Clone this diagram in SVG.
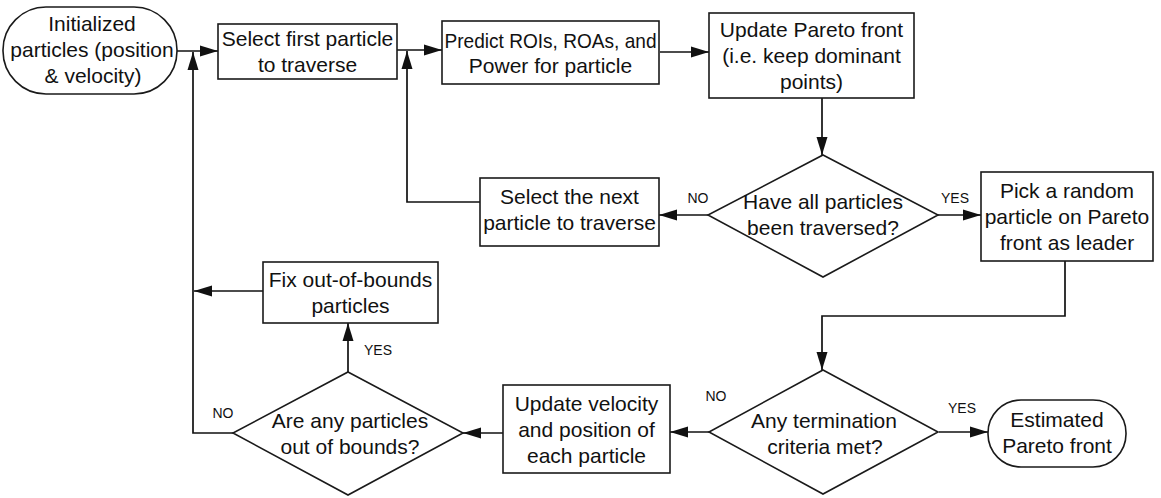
<svg xmlns="http://www.w3.org/2000/svg" width="1161" height="498" viewBox="0 0 1161 498">
<style>
.box{fill:#fff;stroke:#1a1a1a;stroke-width:1.6}
.t{font-family:"Liberation Sans",Arial,sans-serif;font-size:21px;fill:#111;text-anchor:middle}
.l{font-family:"Liberation Sans",Arial,sans-serif;font-size:14px;fill:#111;text-anchor:middle}
.c{fill:none;stroke:#111;stroke-width:1.7}
</style>
<defs>
<marker id="ah" markerUnits="userSpaceOnUse" markerWidth="18" markerHeight="12" refX="18" refY="6" orient="auto">
<path d="M0,0.5 L18,6 L0,11.5 z" fill="#111"/>
</marker>
</defs>
<rect width="1161" height="498" fill="#fff"/>
<g id="connectors">
<path class="c" d="M177,51 H218" marker-end="url(#ah)"/>
<path class="c" d="M397,50 H442" marker-end="url(#ah)"/>
<path class="c" d="M660,52 H709" marker-end="url(#ah)"/>
<path class="c" d="M822,98 V155" marker-end="url(#ah)"/>
<path class="c" d="M708,215 H659" marker-end="url(#ah)"/>
<path class="c" d="M480,202 H407 V51" marker-end="url(#ah)"/>
<path class="c" d="M938,215 H981" marker-end="url(#ah)"/>
<path class="c" d="M1065,261 V316 H822 V370" marker-end="url(#ah)"/>
<path class="c" d="M939,432 H988" marker-end="url(#ah)"/>
<path class="c" d="M709,432 H670" marker-end="url(#ah)"/>
<path class="c" d="M503,433 H463" marker-end="url(#ah)"/>
<path class="c" d="M348,372 V323" marker-end="url(#ah)"/>
<path class="c" d="M263,291 H194" marker-end="url(#ah)"/>
<path class="c" d="M233,433 H193 V52" marker-end="url(#ah)"/>
<text class="l" x="698" y="203">NO</text>
<text class="l" x="955" y="203">YES</text>
<text class="l" x="716" y="401">NO</text>
<text class="l" x="962" y="413">YES</text>
<text class="l" x="378" y="355">YES</text>
<text class="l" x="223" y="418">NO</text>
</g>
<g id="init">
<rect class="box" x="3" y="7" width="174" height="87" rx="43" ry="43"/>
<text class="t" x="92" y="31">Initialized</text>
<text class="t" x="92" y="57">particles (position</text>
<text class="t" x="93" y="83">&amp; velocity)</text>
</g>
<g id="select-first">
<rect class="box" x="218" y="24" width="179" height="55"/>
<text class="t" x="307.5" y="46">Select first particle</text>
<text class="t" x="307.5" y="72">to traverse</text>
</g>
<g id="predict">
<rect class="box" x="442" y="21" width="217" height="63"/>
<text class="t" x="550.5" y="48" textLength="212" lengthAdjust="spacingAndGlyphs">Predict ROIs, ROAs, and</text>
<text class="t" x="550.5" y="73">Power for particle</text>
</g>
<g id="update-pareto">
<rect class="box" x="709" y="13" width="205" height="85"/>
<text class="t" x="811.5" y="37">Update Pareto front</text>
<text class="t" x="811.5" y="63">(i.e. keep dominant</text>
<text class="t" x="811.5" y="89">points)</text>
</g>
<g id="all-traversed">
<polygon class="box" points="823,155 938,215 823,277 708,215"/>
<text class="t" x="823" y="209">Have all particles</text>
<text class="t" x="823" y="235">been traversed?</text>
</g>
<g id="select-next">
<rect class="box" x="480" y="178" width="179" height="68"/>
<text class="t" x="569.5" y="204">Select the next</text>
<text class="t" x="569.5" y="230">particle to traverse</text>
</g>
<g id="pick-leader">
<rect class="box" x="981" y="172" width="172" height="89"/>
<text class="t" x="1067" y="198">Pick a random</text>
<text class="t" x="1067" y="224">particle on Pareto</text>
<text class="t" x="1067" y="250">front as leader</text>
</g>
<g id="termination">
<polygon class="box" points="823,370 938,432 823,494 709,432"/>
<text class="t" x="824" y="428">Any termination</text>
<text class="t" x="825" y="454">criteria met?</text>
</g>
<g id="estimated">
<rect class="box" x="988" y="400" width="138" height="67" rx="33" ry="33"/>
<text class="t" x="1057" y="427">Estimated</text>
<text class="t" x="1057" y="453">Pareto front</text>
</g>
<g id="update-velocity">
<rect class="box" x="503" y="385" width="167" height="88"/>
<text class="t" x="586.5" y="411">Update velocity</text>
<text class="t" x="586.5" y="437">and position of</text>
<text class="t" x="586.5" y="463">each particle</text>
</g>
<g id="out-of-bounds">
<polygon class="box" points="348,372 463,433 348,495 233,433"/>
<text class="t" x="350" y="428">Are any particles</text>
<text class="t" x="350" y="454">out of bounds?</text>
</g>
<g id="fix">
<rect class="box" x="263" y="262" width="175" height="61"/>
<text class="t" x="350.5" y="287">Fix out-of-bounds</text>
<text class="t" x="350.5" y="313">particles</text>
</g>
</svg>
